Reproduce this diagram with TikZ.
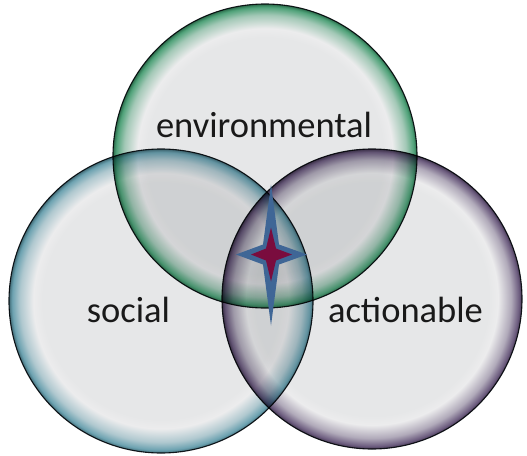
\documentclass[tikz,border=0pt]{standalone}
\usepackage{fontspec}
\setmainfont{Carlito}
\definecolor{disc}{HTML}{E6E7E8}
\definecolor{discl}{HTML}{ECECED}
\definecolor{envc}{HTML}{3E9A6C}
\definecolor{socc}{HTML}{5E9AAA}
\definecolor{actc}{HTML}{604E74}
\definecolor{starblue}{HTML}{3F6696}
\definecolor{starred}{HTML}{7A0C3E}
\definecolor{rimline}{HTML}{1A1F24}
% radial rim shadings: pale disc fading into a coloured edge (25bp = path edge)
\pgfdeclareradialshading{envrim}{\pgfpoint{0bp}{0bp}}{color(0bp)=(disc); color(19.5bp)=(disc); color(21bp)=(discl); color(23.2bp)=(disc!60!envc); color(24.5bp)=(envc!90!disc); color(25bp)=(envc!70!black); color(50bp)=(envc!70!black)}
\pgfdeclareradialshading{socrim}{\pgfpoint{0bp}{0bp}}{color(0bp)=(disc); color(19.5bp)=(disc); color(21bp)=(discl); color(23.2bp)=(disc!60!socc); color(24.5bp)=(socc!90!disc); color(25bp)=(socc!70!black); color(50bp)=(socc!70!black)}
\pgfdeclareradialshading{actrim}{\pgfpoint{0bp}{0bp}}{color(0bp)=(disc); color(19.5bp)=(disc); color(21bp)=(discl); color(23.2bp)=(disc!60!actc); color(24.5bp)=(actc!90!disc); color(25bp)=(actc!70!black); color(50bp)=(actc!70!black)}
\begin{document}
\begin{tikzpicture}[x=1pt,y=-1pt,
  bubble/.style={circle, inner sep=0pt, draw=rimline, line width=1.1pt},
  label/.style={anchor=base, font=\fontsize{36.5}{40}\selectfont, text=black!90}]
\fill[white] (0,0) rectangle (527,455);
\useasboundingbox (0,0) rectangle (527,455);
\begin{scope}[blend group=multiply]
  \node[bubble, minimum size=304pt, shading=envrim] (env) at (265,156) {};
  \node[bubble, minimum size=304pt, shading=socrim] (soc) at (161,301) {};
  \node[bubble, minimum size=300pt, shading=actrim] (act) at (372,299) {};
\end{scope}
\node[label] (envtext) at (264,137) {environmental};
\node[label] (soctext) at (128.5,322) {social};
\node[label] (acttext) at (405.5,322) {actionable};
% four-pointed star at the common centre
\coordinate (star) at (271,254.5);
\fill[starblue] ([shift={(0,-70)}]star) -- ([shift={(8,-10)}]star) -- ([shift={(36,0)}]star)
  -- ([shift={(8,10)}]star) -- ([shift={(0,71)}]star) -- ([shift={(-8,10)}]star)
  -- ([shift={(-35,0)}]star) -- ([shift={(-8,-10)}]star) -- cycle;
\fill[starred] ([shift={(0,-27)}]star) -- ([shift={(5,-6)}]star) -- ([shift={(21,0)}]star)
  -- ([shift={(5,6)}]star) -- ([shift={(0,27)}]star) -- ([shift={(-5,6)}]star)
  -- ([shift={(-20,0)}]star) -- ([shift={(-5,-6)}]star) -- cycle;
\end{tikzpicture}
\end{document}
